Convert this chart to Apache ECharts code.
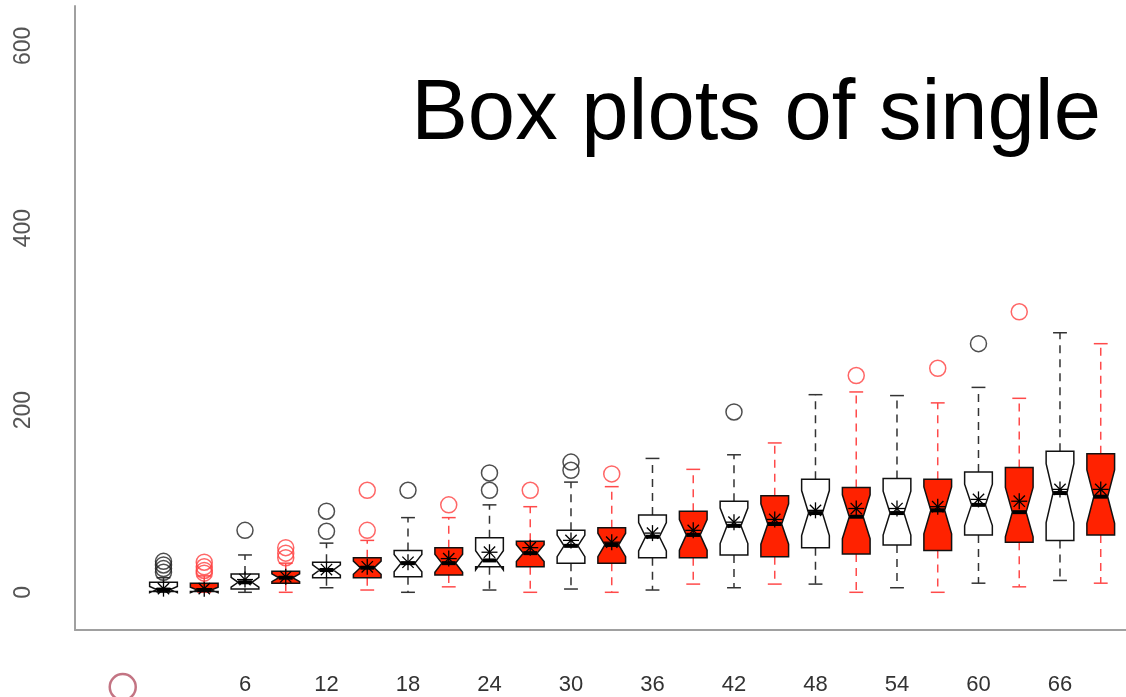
<!DOCTYPE html>
<html><head><meta charset="utf-8">
<script src="https://cdn.jsdelivr.net/npm/echarts@6/dist/echarts.min.js"></script>
<style>html,body{margin:0;padding:0;background:#fff}#c{width:1126px;height:697px}</style>
</head><body><div id="c"></div>
<script>
// ---- data ----
const positions   = [0,3,6,9,12,15,18,21,24,27,30,33,36,39,42,45,48,51,54,57,60,63,66,69];
const tickLabels  = [-3,6,12,18,24,30,36,42,48,54,60,66];
const yTicks      = [0,200,400,600];
const whiskerLow  = [0,0,0,0,5,2.5,0,6,2.5,0,3.6,0,2.5,9,5,9,9,0,5,0,10,6,13,10];
const lowerHinge  = [1,1,3.6,10,16,16,17,19,28,28,32,32,38,38,41,39,49,42,52,46,63,55,57,63];
const medians     = [3,2.5,11,16,24.5,27,32,32,35,43,51,52,61,63,73,75,87,83,87,90,96,88,109,105];
const upperHinge  = [11,10,20,23,33,38,46,49,60,56,68,71,85,89,100,106,124,115,125,124,132,137,155,152];
const whiskerHigh = [16,18,41,32,54,57,82,82,96,94,121,116,147,135,151,164,217,220,216,208,225,213,285,273];
const means       = [4,4,14,17,25,28,33,37,44,49,57,55,65,68,77,80,90,92,92,94,102,100,113,113];
const outliers    = [[34,30,26,22],[33,28,24,21],[68],[49,43,38],[89,67],[112,68],[112],[96],[131,112],[112],[143,134],[130],[],[],[198],[],[],[238],[],[246],[273],[308],[],[]];

const RED = '#ff2200', RED_LINE = '#ff4a4a', BLACK = '#111';

const boxData = positions.map((p, i) => [p, whiskerLow[i], lowerHinge[i], medians[i], upperHinge[i], whiskerHigh[i], means[i]]);
const outBlack = [], outRed = [];
positions.forEach((p, i) => outliers[i].forEach(v => (i % 2 ? outRed : outBlack).push([p, v])));

function renderBox(params, api) {
  const i = params.dataIndex;
  const red = i % 2 === 1;
  const x = api.value(0);
  const P = v => api.coord([x, v]);
  const cx = P(0)[0];
  const bw = api.size([3, 0])[0] * 0.68;
  const half = bw / 2, nh = half / 2;
  const lo = api.value(1), q1 = api.value(2), med = api.value(3), q3 = api.value(4), hi = api.value(5), mean = api.value(6);
  const notch = 0.33 * (q3 - q1);
  const yLo = P(lo)[1], yQ1 = P(q1)[1], yMed = P(med)[1], yQ3 = P(q3)[1], yHi = P(hi)[1], yMean = P(mean)[1];
  const yNL = P(med - notch)[1], yNH = P(med + notch)[1];
  const wc = red ? RED_LINE : '#333';
  const ch = [];
  ch.push({type: 'line', shape: {x1: cx, y1: yQ1, x2: cx, y2: yLo}, style: {stroke: wc, lineWidth: 1.5, lineDash: [8, 6]}});
  ch.push({type: 'line', shape: {x1: cx, y1: yQ3, x2: cx, y2: yHi}, style: {stroke: wc, lineWidth: 1.5, lineDash: [8, 6]}});
  ch.push({type: 'line', shape: {x1: cx - nh, y1: yLo, x2: cx + nh, y2: yLo}, style: {stroke: wc, lineWidth: 1.5}});
  ch.push({type: 'line', shape: {x1: cx - nh, y1: yHi, x2: cx + nh, y2: yHi}, style: {stroke: wc, lineWidth: 1.5}});
  ch.push({type: 'polygon', shape: {points: [
    [cx - half, yQ1], [cx - half, yNL], [cx - nh, yMed], [cx - half, yNH], [cx - half, yQ3],
    [cx + half, yQ3], [cx + half, yNH], [cx + nh, yMed], [cx + half, yNL], [cx + half, yQ1]]},
    style: {fill: red ? RED : '#fff', stroke: BLACK, lineWidth: 1.5}});
  ch.push({type: 'line', shape: {x1: cx - nh, y1: yMed, x2: cx + nh, y2: yMed}, style: {stroke: '#000', lineWidth: 4}});
  const r = 8, d = r * 0.707;
  [[0, -r, 0, r], [-r, 0, r, 0], [-d, -d, d, d], [-d, d, d, -d]].forEach(s => {
    ch.push({type: 'line', shape: {x1: cx + s[0], y1: yMean + s[1], x2: cx + s[2], y2: yMean + s[3]}, style: {stroke: '#000', lineWidth: 1.3}});
  });
  return {type: 'group', children: ch};
}

const chart = echarts.init(document.getElementById('c'));
const FONT = '"Liberation Sans", Arial, sans-serif';
chart.setOption({
  animation: false,
  backgroundColor: '#fff',
  title: {text: 'Box plots of single', right: 25, top: 73, padding: 0,
    textStyle: {fontSize: 85, fontWeight: 'normal', color: '#000', fontFamily: FONT}},
  grid: {left: 75, right: 0, top: 6, bottom: 67, containLabel: false, outerBoundsMode: 'none'},
  xAxis: {type: 'value', min: -6.515, max: 70.86,
    axisLine: {show: true, onZero: false, lineStyle: {color: '#a0a0a0', width: 2}},
    axisTick: {show: false}, splitLine: {show: false},
    axisLabel: {customValues: tickLabels, margin: 44, fontSize: 22, color: '#333', fontFamily: FONT,
      formatter: v => v < 0 ? '{c| }' : String(v),
      rich: {c: {width: 26, height: 26, borderRadius: 14, borderColor: 'rgba(175,70,90,0.75)', borderWidth: 2.5}}}},
  yAxis: {type: 'value', min: -41.4, max: 643.8,
    axisLine: {show: true, onZero: false, lineStyle: {color: '#a0a0a0', width: 2}},
    axisTick: {show: false}, splitLine: {show: false},
    axisLabel: {customValues: yTicks, rotate: 90, margin: 40, fontSize: 23, color: '#555', fontFamily: FONT}},
  series: [
    {type: 'custom', renderItem: renderBox, data: boxData, clip: false, z: 2},
    {type: 'scatter', data: outBlack, symbol: 'circle', symbolSize: 16, z: 3,
      itemStyle: {color: 'rgba(0,0,0,0)', borderColor: '#222', borderWidth: 1.5}},
    {type: 'scatter', data: outRed, symbol: 'circle', symbolSize: 16, z: 3,
      itemStyle: {color: 'rgba(0,0,0,0)', borderColor: '#ff4040', borderWidth: 1.5}}
  ]
});
</script></body></html>
